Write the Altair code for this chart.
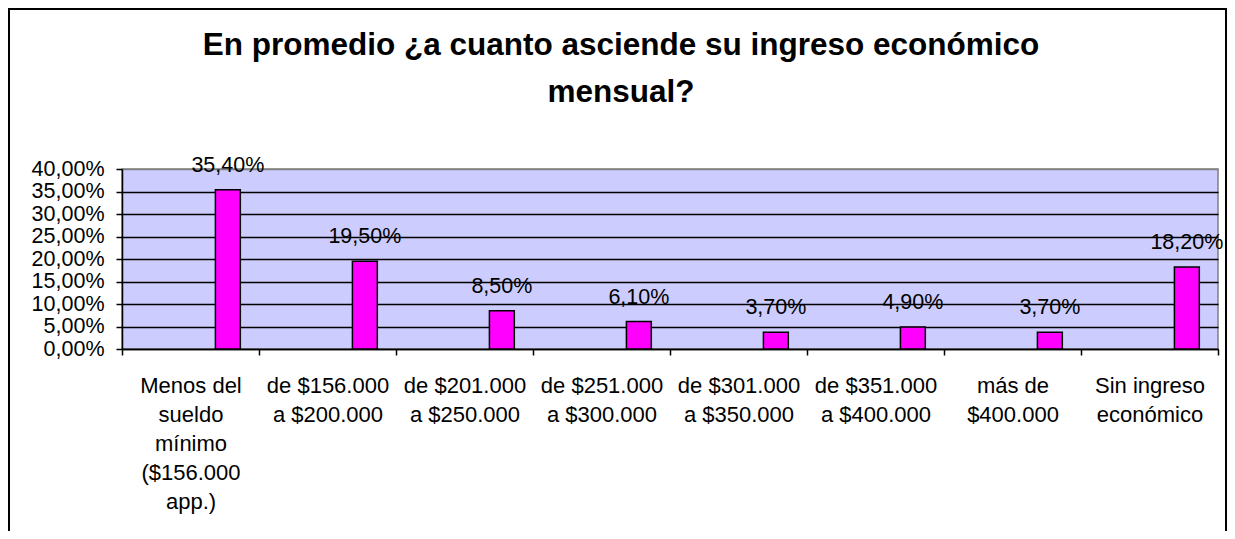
import altair as alt
import pandas as pd

# ---- data ----
categorias = [
    "Menos del|sueldo|mínimo|($156.000|app.)",
    "de $156.000|a $200.000",
    "de $201.000|a $250.000",
    "de $251.000|a $300.000",
    "de $301.000|a $350.000",
    "de $351.000|a $400.000",
    "más de|$400.000",
    "Sin ingreso|económico",
]
porcentajes = [35.40, 19.50, 8.50, 6.10, 3.70, 4.90, 3.70, 18.20]
serie = "Serie"
series_dominio = ["s1", "s2", "s3", "Serie"]
y_ticks = [0, 5, 10, 15, 20, 25, 30, 35, 40]
titulo = ["En promedio ¿a cuanto asciende su ingreso económico", "mensual?"]

df = pd.DataFrame({
    "categoria": categorias,
    "valor": [p / 100 for p in porcentajes],
    "serie": [serie] * len(categorias),
})

FONT = "Liberation Sans"
FSX = 22
FS = 21.5
W, H = 1096, 180

x_enc = alt.X(
    "categoria:N", sort=categorias, title=None,
    scale=alt.Scale(paddingInner=0, paddingOuter=0),
    axis=alt.Axis(
        labelExpr="split(datum.label, '|')", labelAngle=0, tickBand="extent",
        tickSize=6, tickColor="black", tickWidth=1.5,
        domainColor="black", domainWidth=1.5,
        labelFontSize=FSX, labelLineHeight=29, labelPadding=20,
        labelColor="black", labelFont=FONT, grid=False, labelBaseline="top",
    ),
)
xoff = alt.XOffset("serie:N", scale=alt.Scale(domain=series_dominio, paddingInner=0, paddingOuter=0.75))
y_enc = alt.Y(
    "valor:Q", title=None,
    scale=alt.Scale(domain=[0, 0.4], nice=False),
    axis=alt.Axis(
        values=[v / 100 for v in y_ticks], format=".2%",
        labelExpr="replace(datum.label, '.', ',')",
        tickSize=6, tickColor="black", tickWidth=1.5,
        domainColor="black", domainWidth=1.5,
        labelFontSize=FS, labelFont=FONT, labelColor="black", labelPadding=12,
        grid=True,
        gridColor={"condition": {"test": "datum.value >= 0.4", "value": "#808080"}, "value": "black"},
        gridWidth=1.5,
    ),
)

base = alt.Chart(df).transform_calculate(
    etiqueta="replace(format(datum.valor, '.2%'), '.', ',')"
)

bars = base.mark_bar(color="#FF00FF", stroke="black", strokeWidth=1.5).encode(
    x=x_enc, xOffset=xoff, y=y_enc
)
labels = base.mark_text(fontSize=FS, font=FONT, dy=-18, baseline="alphabetic", color="black").encode(
    x=x_enc, xOffset=xoff, y=y_enc, text="etiqueta:N"
)
frame = alt.Chart(pd.DataFrame({"k": [0]})).mark_rect(
    fillOpacity=0, stroke="black", strokeWidth=2
).encode(x=alt.value(-113), x2=alt.value(1104), y=alt.value(-160), y2=alt.value(400))

chart = alt.layer(frame, bars, labels).properties(
    width=W, height=H,
    title=alt.TitleParams(
        titulo, fontSize=31.5, font=FONT, fontWeight="bold", lineHeight=47,
        anchor="middle", dx=-49, offset=-100, color="black",
    ),
    padding={"left": 114, "top": 161, "right": 9, "bottom": 182},
    autosize=alt.AutoSizeParams(type="none"),
    background="white",
).configure_view(fill="#CCCCFF", stroke="#808080", strokeWidth=1.5)

chart.save("out.html", embed_options={"renderer": "svg", "actions": False})
